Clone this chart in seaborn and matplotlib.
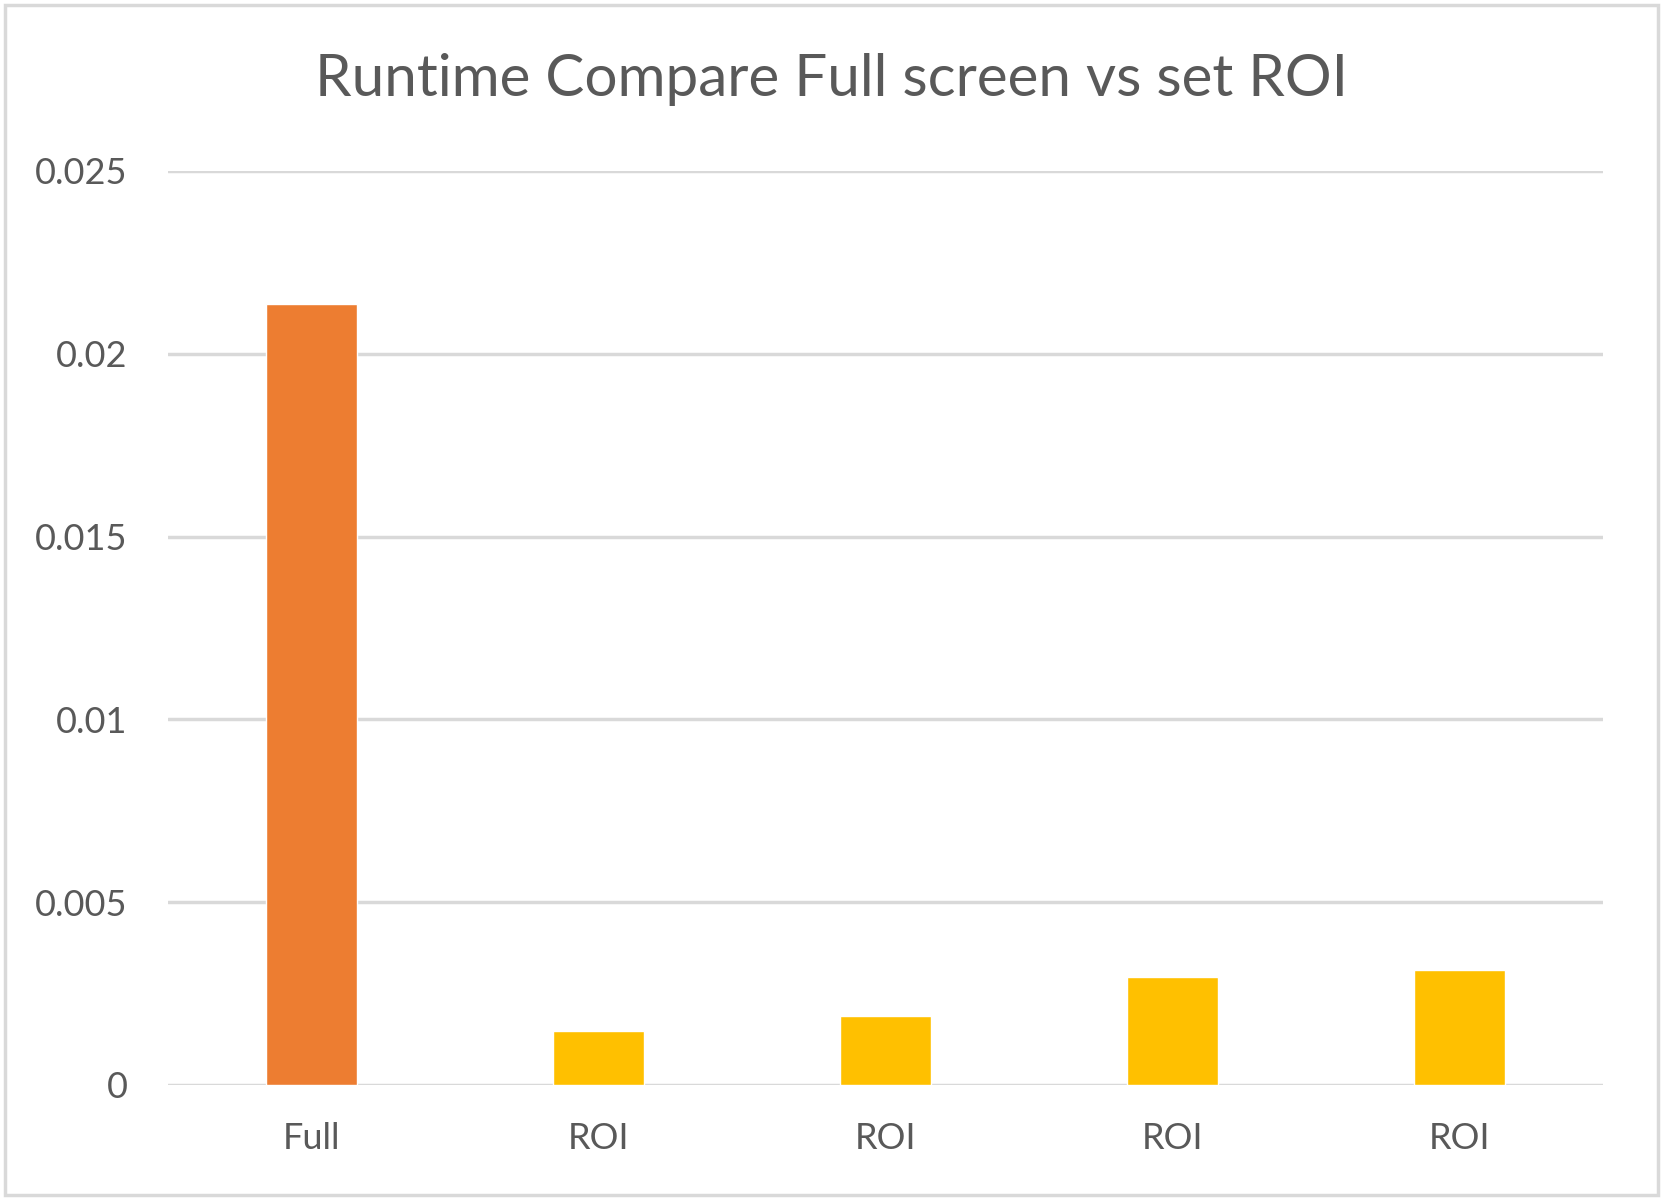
import matplotlib
matplotlib.use("Agg")
import matplotlib.pyplot as plt
import seaborn as sns
import pandas as pd

# data
run_ids = ["r0", "r1", "r2", "r3", "r4"]
labels = ["Full", "ROI", "ROI", "ROI", "ROI"]
runtime = [0.02135, 0.00148, 0.00189, 0.00295, 0.00313]
bar_colors = ["#ED7D31", "#FFC000", "#FFC000", "#FFC000", "#FFC000"]
yticks = [0, 0.005, 0.01, 0.015, 0.02, 0.025]
ytick_labels = ["0", "0.005", "0.01", "0.015", "0.02", "0.025"]

df = pd.DataFrame({"run": run_ids, "runtime": runtime})

sns.set_style("white")
plt.rcParams["font.family"] = ["Lato", "DejaVu Sans"]
txt = "#595959"
grid = "#D9D9D9"

fig = plt.figure(figsize=(16.63, 12), dpi=100)
ax = fig.add_axes([0.101, 0.096, 0.863, 0.7615])

sns.barplot(data=df, x="run", y="runtime", hue="run", palette=bar_colors,
            order=run_ids, hue_order=run_ids, width=0.315, legend=False,
            saturation=1, ax=ax)

ax.set_ylim(0, 0.025)
ax.set_xlim(-0.5, 4.5)
ax.set_yticks(yticks)
ax.set_yticklabels(ytick_labels)
ax.set_xticks(range(len(labels)))
ax.set_xticklabels(labels)
ax.set_xlabel("")
ax.set_ylabel("")
ax.tick_params(axis="both", length=0, labelsize=26, colors=txt)
ax.tick_params(axis="y", pad=29)
ax.tick_params(axis="x", pad=27)
for s in ax.spines.values():
    s.set_visible(False)
ax.yaxis.grid(True, color=grid, linewidth=2.5)
ax.set_axisbelow(True)

fig.text(0.5, 0.934, "Runtime Compare Full screen vs set ROI", ha="center",
         va="center", fontsize=42, color=txt)

# light chart border
fig.patches.append(plt.Rectangle((0.003, 0.004), 0.994, 0.992, transform=fig.transFigure,
                                 fill=False, edgecolor=grid, linewidth=2.5))

fig.savefig("out.png", dpi=100)
